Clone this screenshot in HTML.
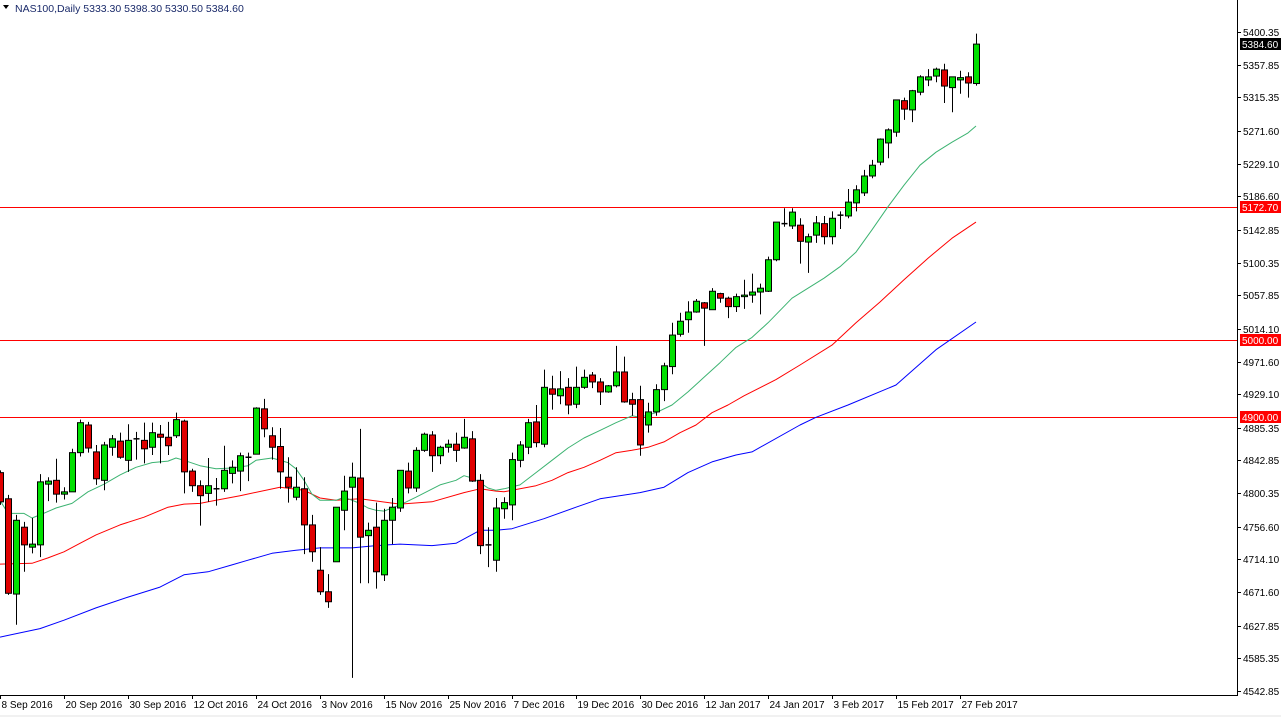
<!DOCTYPE html>
<html><head><meta charset="utf-8">
<style>
html,body{margin:0;padding:0;background:#fff;}
svg{display:block;font-family:"Liberation Sans",Arial,sans-serif;}
</style></head>
<body>
<svg id="chart" width="1281" height="717" viewBox="0 0 1281 717" xmlns="http://www.w3.org/2000/svg">
  <rect x="0" y="0" width="1281" height="717" fill="#fff"/>
  <g id="plot"></g>
  <line x1="1237.5" y1="0" x2="1237.5" y2="695" stroke="#000"/>
  <line x1="0" y1="695.5" x2="1238" y2="695.5" stroke="#000"/>
  <line x1="0" y1="716" x2="1281" y2="716" stroke="#e3e3e3"/>
  <g id="yaxis"></g>
  <g id="xaxis"></g>
  <text x="15" y="12" font-size="10.5" fill="#1a2a6a">NAS100,Daily  5333.30 5398.30 5330.50 5384.60</text>
  <path d="M3 5 L9 5 L6 9 Z" fill="#000"/>
</svg>
<script>
const opens  = [4827,4793,4669,4756,4730,4733,4812,4817,4799,4802,4853,4889,4854,4817,4860,4868,4843,4871,4869,4860,4877,4873,4875,4894,4829,4810,4800,4806,4806,4826,4829,4847,4851,4910,4875,4861,4821,4795,4806,4759,4700,4672,4711,4778,4808,4820,4745,4756,4694,4765,4781,4829,4807,4856,4876,4849,4860,4864,4859,4871,4817,4733,4713,4780,4785,4843,4860,4893,4864,4936,4927,4938,4916,4938,4954,4945,4932,4940,4958,4922,4922,4889,4906,4935,4965,5007,5026,5036,5048,5039,5060,5054,5043,5056,5058,5062,5063,5104,5151,5148,5149,5127,5136,5151,5134,5162,5161,5178,5191,5213,5231,5256,5270,5311,5299,5322,5338,5343,5351,5328,5338,5342,5333.3];
const highs  = [4830,4798,4772,4763,4768,4825,4821,4845,4808,4858,4896,4893,4863,4867,4876,4879,4890,4880,4892,4892,4889,4893,4905,4896,4832,4817,4846,4820,4862,4843,4853,4853,4912,4923,4886,4885,4847,4834,4821,4772,4730,4695,4782,4823,4840,4884,4762,4788,4780,4794,4830,4840,4860,4879,4881,4862,4870,4879,4897,4881,4825,4756,4794,4795,4853,4868,4897,4915,4961,4953,4959,4950,4965,4961,4958,4950,4941,4992,4978,4931,4940,4918,4942,4970,5022,5035,5050,5053,5049,5067,5061,5056,5060,5078,5086,5073,5108,5153,5171,5171,5158,5138,5161,5161,5167,5167,5196,5201,5221,5234,5262,5275,5312,5315,5325,5344,5352,5354,5359,5342,5350,5348,5398.3];
const lows   = [4785,4668,4629,4698,4722,4717,4790,4788,4792,4802,4848,4853,4811,4804,4849,4845,4828,4844,4839,4850,4839,4850,4872,4800,4802,4758,4789,4784,4802,4813,4803,4816,4851,4873,4844,4806,4788,4791,4721,4711,4668,4651,4711,4752,4560,4683,4683,4676,4686,4734,4776,4800,4802,4854,4828,4838,4853,4841,4858,4815,4721,4704,4698,4767,4765,4834,4851,4860,4860,4909,4916,4903,4911,4936,4937,4915,4931,4938,4918,4901,4849,4879,4901,4920,4955,5004,5009,5035,4992,5039,5048,5028,5036,5040,5048,5033,5062,5102,5147,5144,5099,5087,5126,5124,5124,5144,5158,5167,5187,5210,5227,5236,5264,5286,5283,5318,5330,5335,5308,5296,5320,5315,5330.5];
const closes = [4789,4670,4765,4733,4734,4815,4816,4799,4802,4853,4892,4859,4819,4863,4871,4847,4869,4871,4858,4879,4873,4862,4896,4828,4810,4797,4810,4806,4830,4834,4849,4847,4911,4884,4860,4828,4808,4808,4759,4724,4672,4659,4782,4803,4821,4743,4752,4698,4765,4782,4830,4807,4856,4877,4849,4860,4864,4856,4873,4816,4732,4733,4781,4788,4844,4863,4892,4866,4938,4929,4936,4915,4938,4951,4945,4932,4940,4958,4919,4916,4863,4906,4935,4966,5006,5024,5036,5050,5041,5063,5054,5043,5056,5058,5062,5067,5104,5153,5151,5166,5128,5134,5152,5134,5158,5162,5179,5195,5213,5227,5261,5273,5312,5300,5324,5342,5342,5352,5330,5342,5341,5334,5384.6];

const ma20Bars = [0,1,3,4,5,7,9,11,13,15,17,19,21,22,23,25,27,29,31,32,34,36,37,38,39,40,42,43,45,46,47,48,50,52,55,57,58,59,60,61,62,63,65,67,69,71,73,75,77,79,80,82,84,86,88,90,92,94,96,99,101,103,105,107,109,111,113,115,117,119,121,122];
const ma20Vals = [4791,4774,4774,4768,4772,4781,4787,4802,4812,4824,4834,4840,4842,4846,4843,4836,4832,4833,4836,4843,4846,4840,4832,4817,4799,4791,4791,4795,4787,4781,4778,4777,4785,4795,4811,4817,4823,4820,4814,4807,4804,4806,4811,4827,4843,4859,4872,4882,4892,4901,4899,4905,4915,4932,4951,4970,4990,5003,5022,5054,5067,5080,5095,5114,5143,5173,5201,5227,5244,5257,5269,5278];
const ma50Bars = [0,4,6,8,10,12,15,18,21,23,25,27,30,35,38,40,42,45,50,54,58,60,62,63,67,69,71,73,75,77,79,81,83,85,87,89,91,93,97,100,104,107,110,113,116,119,122];
const ma50Vals = [4708,4709,4716,4724,4735,4746,4759,4769,4782,4786,4787,4791,4797,4808,4804,4794,4791,4793,4786,4789,4801,4806,4803,4802,4810,4817,4827,4834,4843,4853,4856,4860,4867,4879,4889,4905,4915,4927,4948,4967,4993,5022,5049,5078,5106,5132,5153];
const ma100Bars = [0,5,8,12,16,20,23,26,29,31,34,37,40,44,47,50,54,57,60,62,64,68,72,75,80,83,86,89,92,94,100,102,106,112,117,122];
const ma100Vals = [4613,4624,4635,4651,4665,4678,4694,4698,4707,4713,4722,4726,4729,4729,4732,4734,4732,4735,4752,4752,4754,4767,4782,4793,4801,4808,4827,4841,4850,4854,4889,4899,4915,4941,4987,5023];

const levelPrices = [5172.70, 5000.00, 4900.00];
const levelLabels = ["5172.70", "5000.00", "4900.00"];
const yTickLabels = ["5400.35","5357.85","5315.35","5271.60","5229.10","5186.60","5142.85","5100.35","5057.85","5014.10","4971.60","4929.10","4885.35","4842.85","4800.35","4756.60","4714.10","4671.60","4627.85","4585.35","4542.85"];
const dateLabels = ["8 Sep 2016","20 Sep 2016","30 Sep 2016","12 Oct 2016","24 Oct 2016","3 Nov 2016","15 Nov 2016","25 Nov 2016","7 Dec 2016","19 Dec 2016","30 Dec 2016","12 Jan 2017","24 Jan 2017","3 Feb 2017","15 Feb 2017","27 Feb 2017"];
const dateBars = [0,8,16,24,32,40,48,56,64,72,80,88,96,104,112,120];
const lastPrice = 5384.60;

const NS = "http://www.w3.org/2000/svg";
const N = closes.length;
function xS(i){ return 976 - 8*(N-1-i); }
function yS(p){ return 32 + (5400.35 - p)/1.3012; }
function mk(tag, attrs, parent){
  const e = document.createElementNS(NS, tag);
  for (const k in attrs) e.setAttribute(k, attrs[k]);
  parent.appendChild(e);
  return e;
}
const plot = document.getElementById('plot');
const yaxis = document.getElementById('yaxis');
const xaxis = document.getElementById('xaxis');

levelPrices.forEach((p) => {
  const y = Math.round(yS(p)) + 0.5;
  const l = mk('line', {x1:0, x2:1237, y1:y, y2:y, stroke:'#ff0000', 'stroke-width':1}, plot);
  
  
});

function drawMA(bars, vals, color, name){
  const pts = bars.map((b, k) => xS(b) + ',' + yS(vals[k]).toFixed(1)).join(' ');
  const pl = mk('polyline', {points:pts, fill:'none', stroke:color, 'stroke-width':1, 'stroke-linejoin':'round'}, plot);
  
  
}
drawMA(ma100Bars, ma100Vals, '#0000ff', 'ma-100-line');
drawMA(ma50Bars, ma50Vals, '#ff0000', 'ma-50-line');
drawMA(ma20Bars, ma20Vals, '#3cb371', 'ma-20-line');

for (let i = 0; i < N; i++){
  const x = xS(i) + 0.5;
  const g = mk('g', {}, plot);
  
  
  const w = mk('line', {x1:x, x2:x, y1:yS(highs[i]), y2:yS(lows[i]), stroke:'#000', 'stroke-width':1}, g);
  
  
  const top = yS(Math.max(opens[i], closes[i]));
  const bot = yS(Math.min(opens[i], closes[i]));
  const up = closes[i] >= opens[i];
  const h = Math.max(bot - top, 0.01);
  if (h < 1.2){
    const d = mk('line', {x1:x-3, x2:x+3, y1:top, y2:top, stroke:'#000', 'stroke-width':1.5}, g);
    
    
  } else {
    const b = mk('rect', {x:x-3, y:top, width:6, height:h, fill: up ? '#00e000' : '#e00000', stroke:'#000', 'stroke-width':1}, g);
    
    
  }
}

yTickLabels.forEach((t) => {
  const y = Math.round(yS(parseFloat(t))) + 0.5;
  const tk = mk('line', {x1:1237, x2:1241, y1:y, y2:y, stroke:'#000'}, yaxis);
  
  
  const tx = mk('text', {x:1243, y:y+3.5, 'font-size':10, fill:'#000'}, yaxis);
  tx.textContent = t;
  
  
});

function tag(price, label, bg, name){
  const y = Math.round(yS(price));
  const r = mk('rect', {x:1240, y:y-6, width:41, height:12, fill:bg}, yaxis);
  
  
  const t = mk('text', {x:1242, y:y+4, 'font-size':10, fill:'#fff'}, yaxis);
  t.textContent = label;
  
  
}
levelPrices.forEach((p, k) => tag(p, levelLabels[k], '#ff0000', 'level-price-tag'));
tag(lastPrice, lastPrice.toFixed(2), '#000000', 'last-price-tag');

dateBars.forEach((b, k) => {
  const x = xS(b) + 0.5;
  const tk = mk('line', {x1:x, x2:x, y1:695, y2:699, stroke:'#000'}, xaxis);
  
  
  const tx = mk('text', {x:x+1, y:708, 'font-size':10, fill:'#000'}, xaxis);
  tx.textContent = dateLabels[k];
  
  
});
</script>
</body></html>
